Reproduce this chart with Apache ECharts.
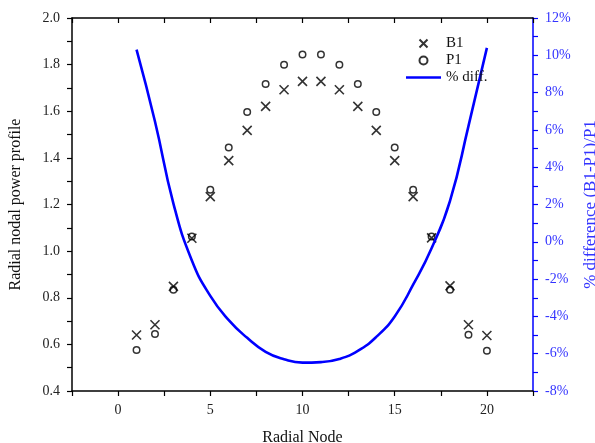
<!DOCTYPE html>
<html>
<head>
<meta charset="utf-8">
<script src="https://cdn.jsdelivr.net/npm/echarts@6/dist/echarts.min.js"></script>
<style>
  html, body { margin: 0; padding: 0; background: #fff; }
</style>
</head>
<body>
<div id="main" style="width: 595px;height:443px;"></div>
<script>
// radial nodes 1..20
const nodes = [1, 2, 3, 4, 5, 6, 7, 8, 9, 10, 11, 12, 13, 14, 15, 16, 17, 18, 19, 20];
const b1 = [0.640, 0.684, 0.849, 1.055, 1.234, 1.388, 1.518, 1.621, 1.692, 1.728,
            1.728, 1.692, 1.621, 1.518, 1.388, 1.234, 1.057, 0.851, 0.684, 0.638];
const p1 = [0.576, 0.644, 0.834, 1.063, 1.263, 1.445, 1.597, 1.717, 1.800, 1.843,
            1.843, 1.800, 1.717, 1.597, 1.445, 1.263, 1.063, 0.834, 0.641, 0.573];
// % difference curve (at each node)
const diffPct = [10.3, 6.45, 2.05, -1.0, -2.9, -4.2, -5.15, -5.9, -6.3, -6.48,
                 -6.45, -6.28, -5.85, -5.1, -4.0, -2.3, -0.35, 2.2, 6.2, 10.4];

const serif = 'Liberation Serif';
const blue = '#0000ff';
const crossPath = 'path://M0,0L10,10M10,0L0,10';

let myChart = echarts.init(document.getElementById('main'));
let option = {
  animation: false,
  textStyle: { fontFamily: serif },
  grid: { left: 72, right: 62, top: 18, bottom: 52, containLabel: false, outerBoundsMode: 'none' },
  legend: {
    orient: 'vertical',
    left: 401,
    top: 31,
    itemWidth: 35,
    itemHeight: 8,
    itemGap: 2,
    textStyle: { fontFamily: serif, fontSize: 15, color: '#111' },
    data: [
      { name: 'B1' },
      { name: 'P1', icon: 'circle' },
      { name: '% diff.', icon: 'path://M0,0L35,0L35,2.6L0,2.6Z' }
    ]
  },
  xAxis: [
    {
      type: 'value',
      min: -2.5,
      max: 22.5,
      interval: 2.5,
      name: 'Radial Node',
      nameLocation: 'middle',
      nameGap: 39,
      nameTextStyle: { fontFamily: serif, fontSize: 16, color: '#111' },
      axisLine: { onZero: false, lineStyle: { color: '#000', width: 1.5 } },
      axisTick: { show: true, inside: false, length: 5, lineStyle: { color: '#000', width: 1.2 } },
      splitLine: { show: false },
      axisLabel: {
        fontFamily: serif, fontSize: 14, color: '#222', margin: 12,
        showMinLabel: true, showMaxLabel: true,
        formatter: function (v) { return (Math.abs(v % 5) < 1e-9) ? String(v) : ''; }
      }
    },
    {
      type: 'value',
      position: 'top',
      min: -2.5,
      max: 22.5,
      interval: 2.5,
      axisLine: { onZero: false, lineStyle: { color: '#000', width: 1.5 } },
      axisTick: { show: true, inside: true, length: 5, lineStyle: { color: '#000', width: 1.2 } },
      axisLabel: { show: false },
      splitLine: { show: false }
    }
  ],
  yAxis: [
    {
      type: 'value',
      min: 0.4,
      max: 2.0,
      interval: 0.2,
      name: 'Radial nodal power profile',
      nameLocation: 'middle',
      nameGap: 48,
      nameTextStyle: { fontFamily: serif, fontSize: 16, color: '#111' },
      axisLine: { show: true, onZero: false, lineStyle: { color: '#000', width: 1.5 } },
      axisTick: { show: true, inside: false, length: 5, lineStyle: { color: '#000', width: 1.2 } },
      minorTick: { show: true, splitNumber: 2, length: 5, lineStyle: { color: '#000', width: 1.2 } },
      splitLine: { show: false },
      axisLabel: {
        fontFamily: serif, fontSize: 14, color: '#222', margin: 12,
        formatter: function (v) { return v.toFixed(1); }
      }
    },
    {
      type: 'value',
      position: 'right',
      min: -8,
      max: 12,
      interval: 2,
      name: '% difference (B1-P1)/P1',
      nameLocation: 'middle',
      nameGap: 44,
      nameRotate: 90,
      nameTextStyle: { fontFamily: serif, fontSize: 17, color: '#3333ff' },
      axisLine: { show: true, onZero: false, lineStyle: { color: blue, width: 1.5 } },
      axisTick: { show: true, inside: false, length: 5, lineStyle: { color: blue, width: 1.2 } },
      minorTick: { show: true, splitNumber: 2, length: 5, lineStyle: { color: blue, width: 1.2 } },
      splitLine: { show: false },
      axisLabel: {
        fontFamily: serif, fontSize: 14, color: '#3333ff', margin: 12,
        formatter: function (v) { return v + '%'; }
      }
    }
  ],
  series: [
    {
      name: 'B1',
      type: 'scatter',
      xAxisIndex: 0,
      yAxisIndex: 0,
      symbol: crossPath,
      symbolSize: 9,
      itemStyle: { color: 'transparent', borderColor: '#000', borderWidth: 1.6 },
      data: nodes.map((n, i) => [n, b1[i]])
    },
    {
      name: 'P1',
      type: 'scatter',
      xAxisIndex: 0,
      yAxisIndex: 0,
      symbol: 'circle',
      symbolSize: 6.5,
      itemStyle: { color: 'transparent', borderColor: '#000', borderWidth: 1.5 },
      data: nodes.map((n, i) => [n, p1[i]])
    },
    {
      name: '% diff.',
      type: 'line',
      xAxisIndex: 0,
      yAxisIndex: 1,
      smooth: 0.5,
      showSymbol: false,
      symbol: 'none',
      lineStyle: { color: blue, width: 2.6 },
      itemStyle: { color: blue },
      data: nodes.map((n, i) => [n, diffPct[i]])
    }
  ]
};
myChart.setOption(option);
</script>
</body>
</html>
